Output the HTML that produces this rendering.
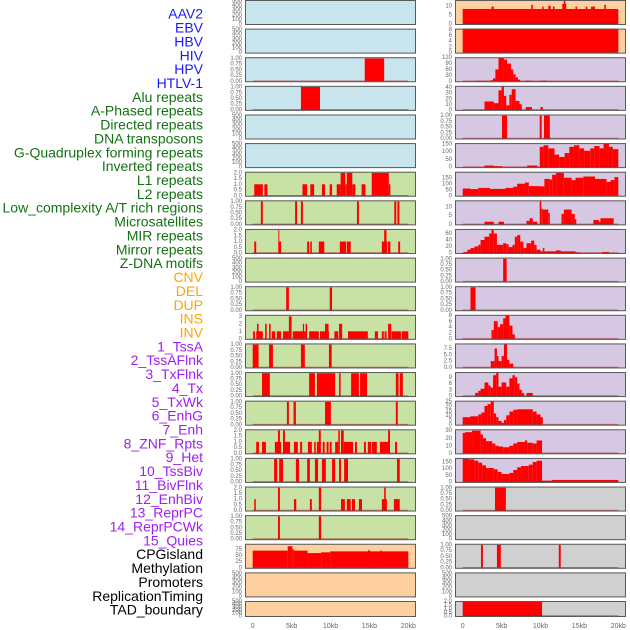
<!DOCTYPE html>
<html><head><meta charset="utf-8">
<style>
html,body{margin:0;padding:0;background:#fff;width:630px;height:630px;overflow:hidden}
svg{display:block}
.lbl{font-family:"Liberation Sans",sans-serif;font-size:14px;text-anchor:end;dominant-baseline:middle}
.tk{font-family:"Liberation Sans",sans-serif;font-size:6px;fill:#666;text-anchor:end;dominant-baseline:middle}
.xt{font-family:"Liberation Sans",sans-serif;font-size:7px;fill:#666;text-anchor:middle}
</style></head>
<body>
<svg id="chart" width="630" height="630" viewBox="0 0 630 630"></svg>
<script>
// ---- labels ----
const labelNames = ["AAV2","EBV","HBV","HIV","HPV","HTLV-1","Alu repeats","A-Phased repeats","Directed repeats","DNA transposons","G-Quadruplex forming repeats","Inverted repeats","L1 repeats","L2 repeats","Low_complexity A/T rich regions","Microsatellites","MIR repeats","Mirror repeats","Z-DNA motifs","CNV","DEL","DUP","INS","INV","1_TssA","2_TssAFlnk","3_TxFlnk","4_Tx","5_TxWk","6_EnhG","7_Enh","8_ZNF_Rpts","9_Het","10_TssBiv","11_BivFlnk","12_EnhBiv","13_ReprPC","14_ReprPCWk","15_Quies","CPGisland","Methylation","Promoters","ReplicationTiming","TAD_boundary"];
const labelColors = ["#1a1aff","#1a1aff","#1a1aff","#1a1aff","#1a1aff","#1a1aff","#137313","#137313","#137313","#137313","#137313","#137313","#137313","#137313","#137313","#137313","#137313","#137313","#137313","#ffa500","#ffa500","#ffa500","#ffa500","#ffa500","#a020f0","#a020f0","#a020f0","#a020f0","#a020f0","#a020f0","#a020f0","#a020f0","#a020f0","#a020f0","#a020f0","#a020f0","#a020f0","#a020f0","#a020f0","#000","#000","#000","#000","#000"];
const xTickValues = [0,5,10,15,20];
const xTickLabels = ["0","5kb","10kb","15kb","20kb"];

// ---- tick sets ----
const T500 = [0,100,200,300,400,500];
const T1 = [0,0.25,0.5,0.75,1.0];
const T1L = ["0.00","0.25","0.50","0.75","1.00"];
const T2 = [0,0.5,1,1.5,2];
const T2L = ["0.0","0.5","1.0","1.5","2.0"];

// ---- left column series [startKb, endKb, value] ----
const L0 = [], L1 = [];
const L2 = [[14.4,16.9,1]];
const L3 = [[6.2,8.65,1]];
const L4 = [], L5 = [];
const L6 = [[0.2,1.3,1],[1.5,1.9,1],[6.4,7.0,1],[7.4,7.9,1],[8.9,9.3,1],[9.9,10.2,1],[10.8,11.3,1],[11.3,11.9,2],[11.9,12.1,1],[12.1,12.8,2],[12.8,13.2,1],[14.0,14.5,1],[15.3,17.5,2],[17.5,17.7,1]];
const L7 = [[1.05,1.3,1],[5.45,5.7,1],[6.2,6.45,1],[13.4,13.65,1],[18.2,18.45,1],[18.6,18.85,1]];
const L8 = [[0.2,0.45,1],[3.3,3.65,1],[3.3,3.42,2],[7.0,7.25,1],[7.4,7.6,1],[8.5,9.2,1],[11.2,12.0,1],[12.1,12.6,1],[16.6,17.3,1],[16.9,17.2,2],[17.4,17.7,1],[18.7,18.95,1]];
const L9 = [];
const L10 = [[4.3,4.65,1],[9.9,10.2,1]];
const L11 = [[0.05,0.3,1],[0.45,1.3,1],[0.55,0.75,2],[1.6,1.8,2],[2.1,2.3,2],[2.45,2.9,1],[3.1,3.65,1],[3.9,4.65,1],[4.65,5.0,3],[5.15,6.45,1],[6.45,6.6,2],[6.6,6.8,1],[6.8,7.0,2],[7.25,8.5,1],[8.65,9.8,1],[9.3,9.75,2],[10.5,11.0,1],[11.1,11.5,2],[12.25,14.8,1],[15.7,16.1,1],[16.6,16.85,1],[16.95,17.2,1],[17.4,17.8,2],[17.85,19.05,1],[19.15,20.0,1]];
const L12 = [[0.0,0.75,1],[2.1,2.6,1],[6.2,6.7,1],[9.8,10.15,1]];
const L13 = [[1.2,2.2,1],[7.25,8.0,1],[8.25,10.6,1],[11.1,11.3,1],[12.65,13.65,1],[13.8,14.7,1],[18.4,18.75,1],[18.9,19.3,1]];
const L14 = [[4.4,4.65,1],[5.25,5.55,1],[9.3,10.05,1],[18.4,18.65,1]];
const L15 = [[0.45,0.8,1],[1.2,1.7,1],[2.85,3.65,1],[3.25,3.5,2],[3.9,4.8,1],[3.9,4.15,2],[5.3,5.8,1],[6.1,6.35,1],[7.1,7.6,1],[7.9,8.1,1],[8.25,8.75,1],[8.5,8.75,2],[9.0,9.25,1],[9.5,9.75,1],[9.9,10.15,1],[10.6,11.0,1],[11.0,11.2,2],[11.35,11.7,2],[11.7,12.9,1],[13.15,13.4,1],[14.3,14.55,1],[14.8,15.2,1],[15.3,15.95,1],[16.35,17.65,1],[17.4,17.65,2],[18.3,18.55,1]];
const L16 = [[2.75,3.15,1],[3.4,3.9,1],[5.55,5.95,1],[7.0,7.35,1],[8.0,8.4,1],[8.9,9.4,1],[10.2,10.6,1],[11.1,11.35,1],[11.75,12.25,1],[18.55,18.9,1]];
const L17 = [[0.2,0.4,1],[3.25,3.5,2],[5.3,5.6,1],[7.35,7.6,1],[8.5,8.8,2],[11.35,11.85,1],[12.1,12.6,1],[12.75,13.15,1],[13.65,14.05,1],[16.6,17.25,1],[16.9,17.1,2],[18.15,18.9,1]];
const L18 = [[3.25,3.5,1],[8.5,8.8,1]];
const L19 = [[0,4.5,70],[4.5,5.1,88],[5.1,5.3,75],[5.3,7.05,70],[7.05,8.8,60],[8.8,9.95,63],[9.95,20,67],[14.8,15.1,71],[16.4,16.6,70]];
const L20 = [], L21 = [];

// ---- right column series ----
const R0 = [[0,20,8.2],[3.7,4.0,9.5],[8.8,9.0,10.5],[10.2,10.4,9.5],[11.0,11.3,10],[11.6,11.8,9.5],[12.8,13.3,11],[13.0,13.2,13],[14.5,14.7,9.5],[15.8,16.0,9.5],[16.5,17.0,9.5],[18.2,18.4,10.5]];
const R1 = [[0,20,8.3]];
const R2 = [[1.9,3.6,2],[3.6,3.9,5],[3.9,4.2,15],[4.2,4.6,60],[4.6,5.3,120],[5.3,5.7,110],[5.7,6.2,90],[6.2,6.5,60],[6.5,6.8,35],[6.8,7.1,20],[7.1,7.4,8],[8.0,8.8,3],[10.0,10.8,3]];
const R3 = [[2.8,4.0,15],[4.0,4.6,12],[4.6,5.0,35],[5.0,5.3,42],[5.3,5.6,25],[5.6,6.0,8],[6.0,6.3,27],[6.3,6.8,37],[6.8,7.3,16],[7.3,7.6,10],[8.1,8.9,5],[10.0,10.3,5]];
const R4 = [[5.05,5.7,1],[9.9,10.15,1],[10.45,11.2,1]];
const R5 = [[2.8,4.0,10],[4.0,5.1,6],[8.3,9.6,10],[9.9,10.4,130],[10.4,11.0,140],[11.0,11.8,120],[11.8,12.4,80],[12.4,13.1,65],[13.1,13.7,90],[13.7,14.3,130],[14.3,15.0,140],[15.0,15.6,120],[15.6,16.4,105],[16.4,16.9,120],[16.9,17.6,135],[17.6,18.1,120],[18.1,18.8,150],[18.8,19.3,130],[19.3,20,115]];
const R6 = [[0,1,60],[1,2,55],[2,3.5,65],[3.5,5.5,57],[5.5,6.5,65],[6.5,7,75],[7,8,100],[8,8.5,110],[8.5,10,80],[10,10.5,78],[10.5,11.2,140],[11.2,11.5,135],[11.5,12,175],[12,13,190],[13,14,150],[14,14.5,130],[14.5,15.5,150],[15.5,17,160],[17,18.5,140],[18.5,19,115],[19,19.5,130],[19.5,20,155]];
const R7 = [[2.8,4.0,1.5],[4.6,5.3,1.5],[8.2,8.6,2],[8.6,9.0,3.5],[9.0,9.6,1.5],[9.9,10.1,14],[10.1,10.3,9],[10.3,11.0,8.5],[11.0,11.2,6.5],[12.7,13,6],[13,14,8.5],[14,14.4,6],[14.4,14.6,3],[16.8,17.5,2.5],[17.5,17.7,1.5],[17.7,19.4,3.5]];
const R8 = [[0.1,0.6,3],[0.6,1,10],[1,1.5,15],[1.5,2,20],[2,2.3,25],[2.3,2.8,40],[2.8,3.4,50],[3.4,3.7,60],[3.7,4,72],[4,4.4,60],[4.4,5.2,25],[5.2,5.6,30],[5.6,5.9,27],[5.9,6.4,18],[6.4,6.7,25],[6.7,7.0,50],[7.0,7.4,55],[7.4,7.8,35],[7.8,8.2,15],[8.2,8.8,30],[8.8,9.2,38],[9.2,9.5,25],[9.5,10.0,10],[10.0,10.3,5],[10.3,10.5,15],[10.5,12,5],[12,12.6,8],[12.6,14.5,5],[14.5,15,2],[17.9,18.8,3]];
const R9 = [[5.2,5.65,1]];
const R10 = [[1.0,1.65,1]];
const R11 = [[3.7,4.0,3],[4.0,4.5,6],[4.5,4.8,4],[4.8,5.2,5],[5.2,5.5,7],[5.5,6.0,8],[6.0,6.4,4.5],[6.4,6.7,1.5]];
const R12 = [[3.6,4.1,2.5],[4.1,4.4,7.5],[4.4,4.6,4.5],[4.6,5.0,2.5],[5.0,5.3,4.5],[5.3,5.7,9.5],[5.7,6.0,3],[6.0,6.5,1.5]];
const R13 = [[1.6,2.0,1.5],[2.0,2.3,2.5],[2.3,2.8,3.5],[2.8,3.3,6.5],[3.3,3.6,5],[3.6,3.9,4],[3.9,4.3,10],[4.3,4.6,12],[4.6,5.0,4.5],[5.0,5.6,6.5],[5.6,6.0,4.5],[6.0,6.4,8.5],[6.4,6.7,10],[6.7,7.0,9],[7.0,7.3,6],[7.3,7.6,3],[7.6,7.9,1.5],[8.2,9.0,1.5]];
const R14 = [[0,1,8],[1,2,9],[2,2.4,11],[2.4,2.8,13],[2.8,3.2,20],[3.2,3.6,22],[3.6,4.0,25],[4.0,4.3,12],[4.3,4.6,8],[4.6,5.0,4],[5.0,5.3,2],[5.3,5.6,5],[5.6,6.0,10],[6.0,6.5,14],[6.5,7.0,16],[7.0,9.0,16.5],[9.0,9.5,14],[9.5,10,11],[10,10.3,8]];
const R15 = [[0,0.3,27],[0.3,1.2,28],[1.2,2.3,30],[2.3,2.6,25],[2.6,3.0,20],[3.0,3.8,16],[3.8,4.2,13],[4.2,4.6,10],[4.6,5.2,9],[5.2,6.0,8],[6.0,6.5,10],[6.5,7.0,13],[7.0,8.0,15],[8.0,8.3,17],[8.3,9.0,14],[9.0,9.5,13],[9.5,10.2,17]];
const R16 = [[0,0.8,175],[0.8,1.5,170],[1.5,2,160],[2,2.5,145],[2.5,3,125],[3,4,105],[4,4.5,95],[4.5,5.0,75],[5.0,6.0,60],[6.0,6.5,68],[6.5,7,90],[7,7.5,110],[7.5,8.5,120],[8.5,9,130],[9,9.5,150],[9.5,10.2,160],[10.2,11.5,10],[11.5,20,15]];
const R17 = [[4.15,5.55,1]];
const R18 = [];
const R19 = [[2.35,2.6,1],[4.4,4.9,1],[12.35,12.6,1]];
const R20 = [];
const R21 = [[0,10.2,2.0]];

// panel configs: [series, ymax, ticks, tickLabels, bg]
const BLUE="#c8e4ec", GREEN="#c8e1a4", ORANGE="#fecf9f", LAV="#d6c8e3", GRAY="#d0d0d0";
const leftPanels = [
 [L0,520,T500,null,BLUE],[L1,520,T500,null,BLUE],[L2,1.05,T1,T1L,BLUE],[L3,1.05,T1,T1L,BLUE],[L4,520,T500,null,BLUE],[L5,520,T500,null,BLUE],
 [L6,2.1,T2,T2L,GREEN],[L7,1.05,T1,T1L,GREEN],[L8,2.1,T2,T2L,GREEN],[L9,520,T500,null,GREEN],[L10,1.05,T1,T1L,GREEN],[L11,3.2,[0,1,2,3],null,GREEN],
 [L12,1.05,T1,T1L,GREEN],[L13,1.05,T1,T1L,GREEN],[L14,1.05,T1,T1L,GREEN],[L15,2.1,T2,T2L,GREEN],[L16,1.05,T1,T1L,GREEN],[L17,2.1,T2,T2L,GREEN],[L18,1.05,T1,T1L,GREEN],
 [L19,98,[0,25,50,75],null,ORANGE],[L20,520,T500,null,ORANGE],[L21,520,T500,null,ORANGE]];
const rightPanels = [
 [R0,13.1,[0,5,10],null,ORANGE],[R1,8.3,[0,2,4,6,8],null,ORANGE],[R2,122,[0,30,60,90,120],null,LAV],[R3,43,[0,10,20,30,40],null,LAV],[R4,1.05,T1,T1L,LAV],[R5,154,[0,50,100,150],null,LAV],
 [R6,200,[0,50,100,150],null,LAV],[R7,13.8,[0,5,10],null,LAV],[R8,74,[0,20,40,60],null,LAV],[R9,1.05,T1,T1L,LAV],[R10,1.05,T1,T1L,LAV],[R11,8.2,[0,2,4,6,8],null,LAV],
 [R12,9.5,[0,2.5,5,7.5],["0.0","2.5","5.0","7.5"],LAV],[R13,11.5,[0,3,6,9],null,LAV],[R14,25.7,[0,5,10,15,20,25],null,LAV],[R15,31.8,[0,10,20,30],null,LAV],[R16,181,[0,50,100,150],null,LAV],
 [R17,1.05,T1,T1L,GRAY],[R18,520,T500,null,GRAY],[R19,1.05,T1,T1L,GRAY],[R20,520,T500,null,GRAY],[R21,2.05,T2,T2L,GRAY]];

const svg = document.getElementById('chart');
const NS = "http://www.w3.org/2000/svg";
function mk(tag, attrs, parent){
  const e = document.createElementNS(NS, tag);
  for (const k in attrs) e.setAttribute(k, attrs[k]);
  (parent||svg).appendChild(e);
  return e;
}
function xScale(col, kb){ return (col===0 ? 252.7 : 462.7) + kb * 7.78; }
function panelTop(i){ return i < 21 ? i * 28.62 : 601; }
function panelH(i){ return i < 21 ? 25 : 16; }

// labels
labelNames.forEach((n, i) => {
  const t = mk('text', {x: 203, y: 15 + i * 13.86, class: 'lbl', fill: labelColors[i]});
  
  
  t.textContent = n;
});

function drawPanel(col, i, cfg){
  const [series, ymax, ticks, tlab, bg] = cfg;
  const px = col === 0 ? 245 : 455, pw = 171;
  const top = panelTop(i), h = panelH(i);
  const bottom = top + h - 1;
  const g = mk('g', {});
  
  
  mk('rect', {x: px, y: top, width: pw, height: h, fill: bg}, g);
  const yS = v => bottom - (v / ymax) * (h - 1);
  if (series.length) {
    series.forEach(s => {
      const x0 = xScale(col, s[0]), x1 = xScale(col, s[1]);
      const y = Math.max(top, yS(s[2]));
      const r = mk('rect', {x: x0, y: y, width: Math.max(0.8, x1 - x0), height: bottom - y, fill: '#ff0000'}, g);
      
      
    });
    mk('line', {x1: xScale(col, 0), x2: xScale(col, 20), y1: bottom, y2: bottom, stroke: 'rgba(170,20,20,0.55)', 'stroke-width': 1.5}, g);
  }
  mk('rect', {x: px + 0.5, y: top + 0.5, width: pw - 1, height: h - 1, fill: 'none', stroke: '#5a5a5a', 'stroke-width': 1}, g);
  ticks.forEach((v, k) => {
    const t = mk('text', {x: px - 3, y: yS(v), class: 'tk'}, g);
    
    
    t.textContent = tlab ? tlab[k] : String(v);
  });
}
leftPanels.forEach((c, i) => drawPanel(0, i, c));
rightPanels.forEach((c, i) => drawPanel(1, i, c));

[0, 1].forEach(col => {
  xTickValues.forEach((v, k) => {
    const t = mk('text', {x: xScale(col, v), y: 628, class: 'xt'});
    
    
    t.textContent = xTickLabels[k];
  });
});
</script>
</body></html>
